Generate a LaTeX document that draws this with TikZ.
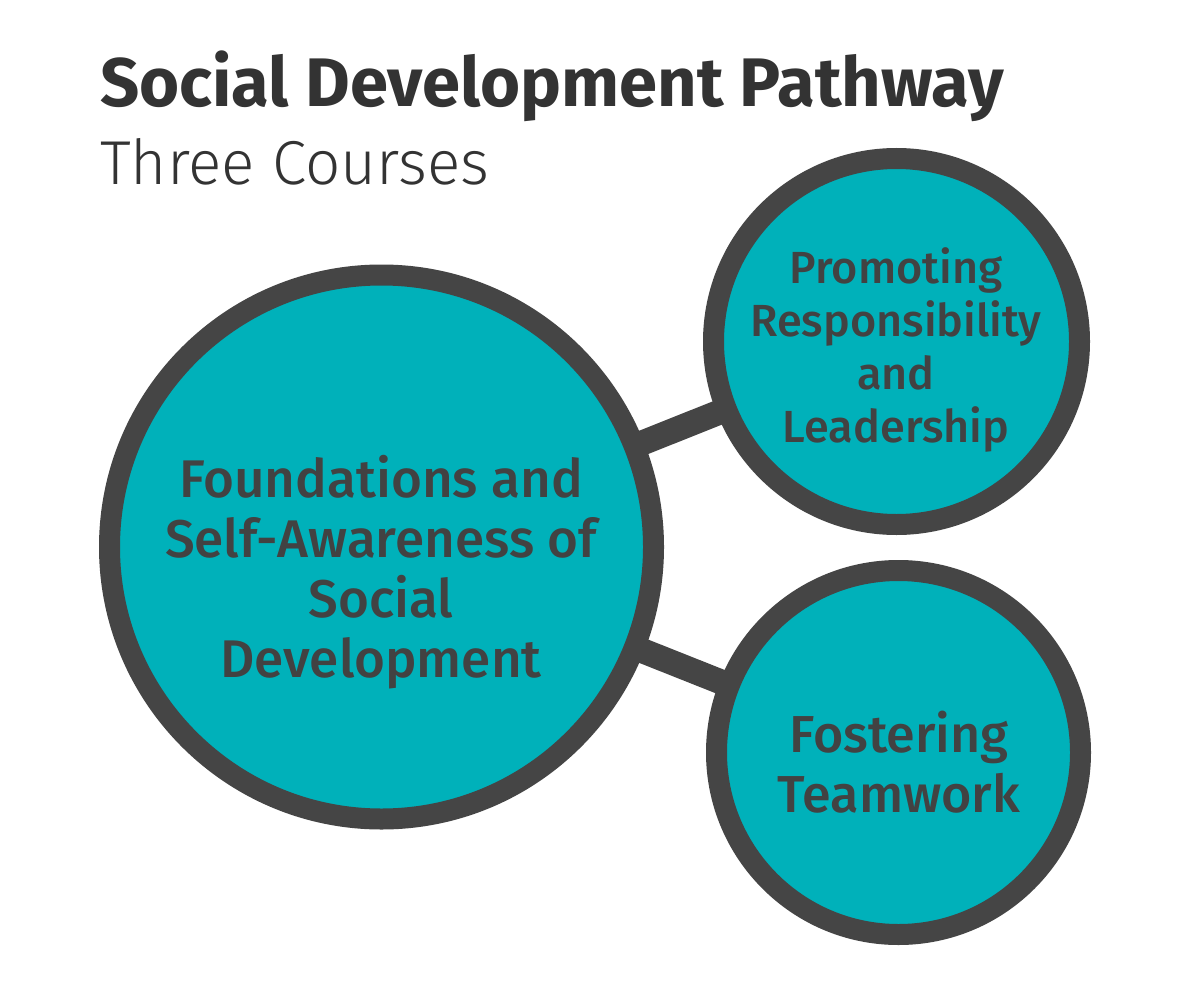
\documentclass[tikz,border=0pt]{standalone}
\usepackage{fontspec}
\usetikzlibrary{backgrounds}
\setmainfont{Fira Sans}
\IfFontExistsTF{Fira Sans Medium}{\newfontfamily\medfont{Fira Sans Medium}}{\newfontfamily\medfont{Fira Sans}[UprightFont=*-Bold]}
\IfFontExistsTF{Fira Sans Light}{\newfontfamily\lightfont{Fira Sans Light}}{\newfontfamily\lightfont{Fira Sans}}
\newfontfamily\boldfont{Fira Sans}[UprightFont=*-Bold]
\definecolor{teal1}{HTML}{00B1BA}
\definecolor{ring}{HTML}{454545}
\definecolor{titlecol}{HTML}{333333}
\definecolor{txtcol}{HTML}{424242}
\begin{document}
\begin{tikzpicture}[x=1pt,y=-1pt,
  course/.style={circle, draw=ring, fill=teal1, line width=21pt, inner sep=0pt},
  link/.style={draw=ring, line width=25pt},
  coursetext/.style={text=txtcol, align=center, inner sep=0pt, font=\medfont},
]
\useasboundingbox (0,0) rectangle (1190,1000);
\node[anchor=base west, inner sep=0pt, text=titlecol, font=\boldfont\fontsize{68.7}{84}\selectfont] (title) at (100,107) {Social Development Pathway};
\node[anchor=base west, inner sep=0pt, text=titlecol, font=\lightfont\fontsize{62}{74}\selectfont] (subtitle) at (100,185) {Three Courses};

\node[course, minimum size=544pt] (found) at (381.5,547) {};
\node[course, minimum size=366pt] (promo) at (896.5,341.5) {};
\node[course, minimum size=364pt] (foster) at (898.5,752.5) {};

\begin{scope}[on background layer]
\fill[white] (0,0) rectangle (1190,1000);
\draw[link] (found.center) -- (promo.center);
\draw[link] (found.center) -- (foster.center);
\end{scope}

\node[coursetext, font=\medfont\fontsize{53}{60}\selectfont] (foundtxt) at (381,572) {Foundations and\\Self-Awareness of\\Social\\Development};
\node[coursetext, font=\medfont\fontsize{45}{53.3}\selectfont] (promotxt) at (896,350) {Promoting\\Responsibility\\and\\Leadership};
\node[coursetext, font=\medfont\fontsize{52}{60}\selectfont] (fostertxt) at (899,762) {Fostering\\Teamwork};
\end{tikzpicture}
\end{document}
